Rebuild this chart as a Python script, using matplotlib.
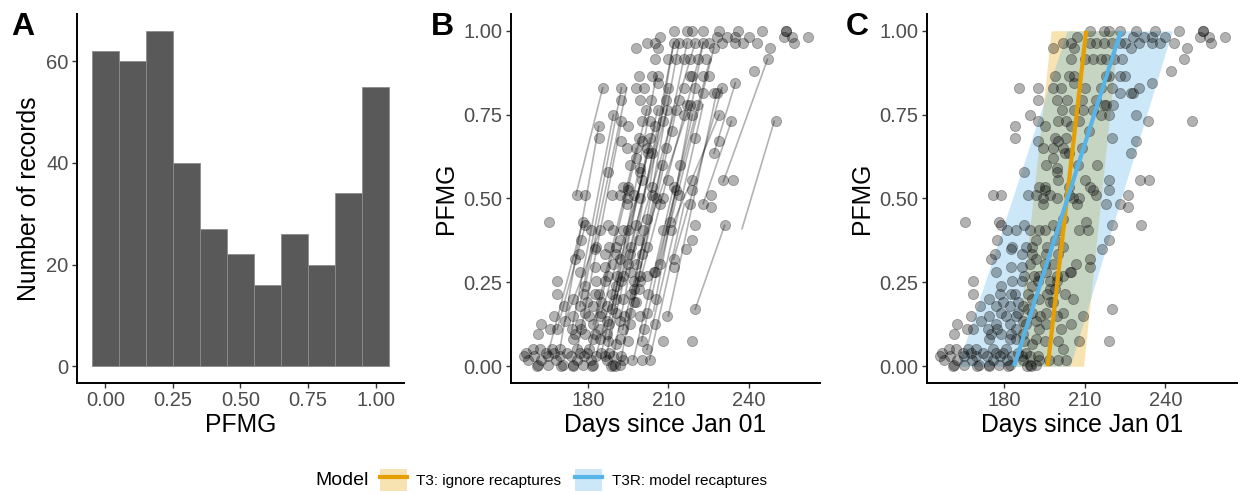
import matplotlib
matplotlib.use("Agg")
import matplotlib.pyplot as plt
from matplotlib.patches import Patch
from matplotlib.lines import Line2D
from matplotlib.legend_handler import HandlerTuple
import numpy as np

plt.rcParams['font.family'] = ['Liberation Sans', 'DejaVu Sans']

# panel A: histogram of PFMG (bin centres and counts)
hist_centres = [0.0, 0.1, 0.2, 0.3, 0.4, 0.5, 0.6, 0.7, 0.8, 0.9, 1.0]
hist_counts = [62, 60, 66, 40, 27, 22, 16, 26, 20, 34, 55]

# panels B and C: capture records (day of year, PFMG), read row by row
rows = [
    (1.00, [212, 217, 219, 223, 229, 236, 245, 254, 254]),
    (0.98, [207, 228, 232, 235, 240, 253, 256, 262]),
    (0.965, [202, 205, 212, 214, 217, 220, 223, 225, 230, 235, 238, 243, 257]),
    (0.95, [198, 206, 227, 248]),
    (0.915, [205, 210, 213, 216, 218, 221, 224, 247]),
    (0.88, [242]),
    (0.865, [199, 204, 206, 218, 219, 223, 225]),
    (0.845, [206, 235]),
    (0.83, [185.5, 192.5, 198, 201, 210, 216, 220, 230]),
    (0.815, [223, 227, 228]),
    (0.795, [192.5, 199.5, 203.5, 209, 214]),
    (0.78, [217, 218, 220.5]),
    (0.765, [201.5, 206, 209.5, 213]),
    (0.75, [189.5, 216, 219, 229]),
    (0.73, [192.5, 200, 203, 208, 233.5, 250]),
    (0.715, [184, 195, 205]),
    (0.70, [211.5]),
    (0.68, [184, 199, 203, 220]),
    (0.67, [192.5, 200, 229]),
    (0.65, [194.5, 198, 202, 209]),
    (0.635, [202.5, 204, 227]),
    (0.62, [198]),
    (0.60, [195.5, 207.5, 214.5]),
    (0.59, [199.5]),
    (0.58, [187.5, 199.5]),
    (0.555, [200, 210, 219, 230.5, 234]),
    (0.535, [193, 195, 204, 212]),
    (0.525, [195, 213, 219]),
    (0.51, [176, 179, 189, 192, 197, 204, 214, 226]),
    (0.50, [194.5, 199.5, 205.5, 208]),
    (0.485, [194.5, 207, 218, 223]),
    (0.475, [226]),
    (0.44, [202]),
    (0.43, [165.5, 178, 210.5]),
    (0.42, [179, 187.5, 198, 220, 231]),
    (0.405, [181, 184.5, 189.5, 193, 195, 200.5, 208, 211]),
    (0.375, [177.5, 192, 199, 219]),
    (0.355, [183, 188, 190.5, 196, 202]),
    (0.35, [182.5, 216.5]),
    (0.335, [176.5, 186.5, 190.5, 195.5, 200]),
    (0.32, [175, 192, 212]),
    (0.305, [189.5, 195, 198, 206.8]),
    (0.295, [182.5, 186.5, 212]),
    (0.28, [177, 195.5, 204.5, 205]),
    (0.27, [187.5, 191, 193, 199.5, 202]),
    (0.255, [168.5, 183, 186.5, 192.5, 197, 199.5]),
    (0.24, [179, 190.5]),
    (0.23, [197, 199]),
    (0.215, [168.5, 178.5, 182.5, 184, 189, 196, 202.5]),
    (0.20, [174.5, 190.5, 193, 205.5]),
    (0.19, [179.5, 185, 197, 198]),
    (0.18, [171, 177, 182, 187]),
    (0.17, [189, 220]),
    (0.16, [179, 185, 190.5, 195.5, 202]),
    (0.15, [167.5, 174.5, 180.5, 184.5, 193.5, 199.5, 209.5]),
    (0.135, [171.5, 187, 192]),
    (0.125, [162.5, 177, 182, 188, 195.5, 205]),
    (0.11, [166, 168.5, 174, 177.5, 184.5, 193, 201]),
    (0.095, [161.5, 175, 179, 182.5, 187]),
    (0.08, [174.5, 182, 184.5, 192]),
    (0.075, [187.5, 195, 200, 208, 219]),
    (0.065, [190.5]),
    (0.05, [159.5, 162, 166.5, 169.5, 176, 180.5, 202]),
    (0.04, [157, 164.5, 167.5, 172, 177, 179.5, 185, 188]),
    (0.03, [156, 160, 165, 169.5, 173.5, 178.5, 183, 186.5, 189.5, 192.5]),
    (0.02, [157.5, 162.5, 168, 176, 181, 187, 193, 196.5, 200, 203]),
    (0.005, [161.5, 165, 170.5, 174.5, 178, 182, 189.5, 192]),
    (0.0, [161, 170, 174.5, 181.5, 188.5, 190]),
]
days = [d for pf, ds in rows for d in ds]
pfmg = [pf for pf, ds in rows for d in ds]

# recaptured individuals: first record -> later record
rc_day1 = [175.5, 177, 174, 180.5, 183, 186.5, 189.5, 192, 185, 189, 190.5, 194.5, 197,
           195.5, 199.5, 202, 198, 204.5, 205, 207, 210, 212, 212, 220, 237.5, 230.5,
           227, 223, 179, 168.5, 171.5, 182, 187.5, 185, 193, 197, 200, 203, 169.5,
           176, 165, 203]
rc_pf1 = [0.51, 0.18, 0.11, 0.05, 0.03, 0.02, 0.03, 0.005, 0.04, 0.17, 0.20, 0.095, 0.195,
          0.305, 0.255, 0.05, 0.305, 0.165, 0.28, 0.305, 0.15, 0.32, 0.43, 0.17, 0.41, 0.55,
          0.635, 0.485, 0.24, 0.11, 0.135, 0.125, 0.075, 0.16, 0.11, 0.02, 0.075, 0.02, 0.05,
          0.05, 0.035, 0.535]
rc_day2 = [185.5, 192.5, 189.5, 202, 205, 210, 212, 214, 206, 205.5, 209.5, 217, 213,
           220, 223, 223, 218, 223, 225.5, 227, 228, 230, 229, 231, 249.5, 247,
           235, 233.5, 194.5, 179, 184.5, 198, 203, 200, 207.5, 212, 219, 216, 184,
           192.5, 178, 212]
rc_pf2 = [0.83, 0.83, 0.75, 0.765, 0.715, 0.83, 0.965, 0.965, 0.765, 0.865, 0.765, 0.965, 0.765,
          0.965, 0.965, 0.78, 0.78, 0.965, 0.915, 0.95, 0.815, 0.83, 0.75, 0.42, 0.73, 0.915,
          0.845, 0.73, 0.83, 0.42, 0.405, 0.65, 0.68, 0.555, 0.60, 0.535, 0.75, 0.485, 0.715,
          0.73, 0.43, 0.965]

# panel C: fitted models (PFMG 0 -> 1), centre line and ribbon edges
model_pf = [0.0, 1.0]
t3_day = [196.2, 210.5]
t3_lo = [184.0, 197.5]
t3_hi = [209.5, 222.5]
t3r_day = [183.7, 223.4]
t3r_lo = [162.7, 203.4]
t3r_hi = [204.5, 242.5]

ORANGE = '#E69F00'
BLUE = '#56B4E9'
TICK_FS = 14.5
TITLE_FS = 17.8
PUNTO = 54


def estilo(ax):
    for s in ['top', 'right']:
        ax.spines[s].set_visible(False)
    for s in ['left', 'bottom']:
        ax.spines[s].set_linewidth(1.4)
    ax.tick_params(labelsize=TICK_FS, labelcolor='#4D4D4D', width=1.0, length=3.5,
                   color='#333333', pad=2.5)


fig = plt.figure(figsize=(12.38, 4.95), dpi=100)
bottom, height = 0.2263, 0.7454
axA = fig.add_axes([0.0622, bottom, 0.2641, height])
axB = fig.add_axes([0.4128, bottom, 0.2496, height])
axC = fig.add_axes([0.7488, bottom, 0.2504, height])

# A
axA.bar(hist_centres, hist_counts, width=0.1, color='#595959', edgecolor='#8C8C8C', linewidth=0.6)
axA.set_xlim(-0.105, 1.105)
axA.set_ylim(-3.3, 69.3)
axA.set_xticks([0, 0.25, 0.5, 0.75, 1.0])
axA.set_xticklabels(['0.00', '0.25', '0.50', '0.75', '1.00'])
axA.set_yticks([0, 20, 40, 60])
axA.set_xlabel('PFMG', fontsize=TITLE_FS, labelpad=2)
axA.set_ylabel('Number of records', fontsize=TITLE_FS, labelpad=4)
estilo(axA)

# B
for x1, y1, x2, y2 in zip(rc_day1, rc_pf1, rc_day2, rc_pf2):
    axB.plot([x1, x2], [y1, y2], color='black', alpha=0.3, lw=1.2, zorder=1)
axB.scatter(days, pfmg, s=PUNTO, color='black', alpha=0.3, edgecolors='black', linewidths=0.6, zorder=2)

# C
axC.fill_betweenx(model_pf, t3_lo, t3_hi, color=ORANGE, alpha=0.3, lw=0, zorder=1)
axC.fill_betweenx(model_pf, t3r_lo, t3r_hi, color=BLUE, alpha=0.3, lw=0, zorder=1)
axC.scatter(days, pfmg, s=PUNTO, color='black', alpha=0.3, edgecolors='black', linewidths=0.6, zorder=2)
axC.plot(t3_day, model_pf, color=ORANGE, lw=3, zorder=3, solid_capstyle='butt')
axC.plot(t3r_day, model_pf, color=BLUE, lw=3, zorder=3, solid_capstyle='butt')

for ax in [axB, axC]:
    ax.set_xlim(151.3, 266.6)
    ax.set_ylim(-0.05, 1.05)
    ax.set_xticks([180, 210, 240])
    ax.set_yticks([0, 0.25, 0.5, 0.75, 1.0])
    ax.set_yticklabels(['0.00', '0.25', '0.50', '0.75', '1.00'])
    ax.set_xlabel('Days since Jan 01', fontsize=TITLE_FS, labelpad=2)
    ax.set_ylabel('PFMG', fontsize=TITLE_FS, labelpad=4)
    estilo(ax)

for letra, x in [('A', 0.009), ('B', 0.348), ('C', 0.683)]:
    fig.text(x, 0.975, letra, fontsize=23, fontweight='bold', va='top', ha='left')

# legend
handles = [(Patch(facecolor=ORANGE, alpha=0.3, lw=0), Line2D([], [], color=ORANGE, lw=3)),
           (Patch(facecolor=BLUE, alpha=0.3, lw=0), Line2D([], [], color=BLUE, lw=3))]
labels = ['T3: ignore recaptures', 'T3R: model recaptures']
fig.legend(handles, labels, handler_map={tuple: HandlerTuple(ndivide=1, pad=0)},
           loc='center left', bbox_to_anchor=(0.2955, 0.030), ncol=2, frameon=False,
           fontsize=11, handlelength=1.8, handleheight=1.9, handletextpad=0.6,
           columnspacing=0.9)
fig.text(0.2545, 0.030, 'Model', fontsize=14, va='center', ha='left')

fig.savefig('out.png', dpi=100)
